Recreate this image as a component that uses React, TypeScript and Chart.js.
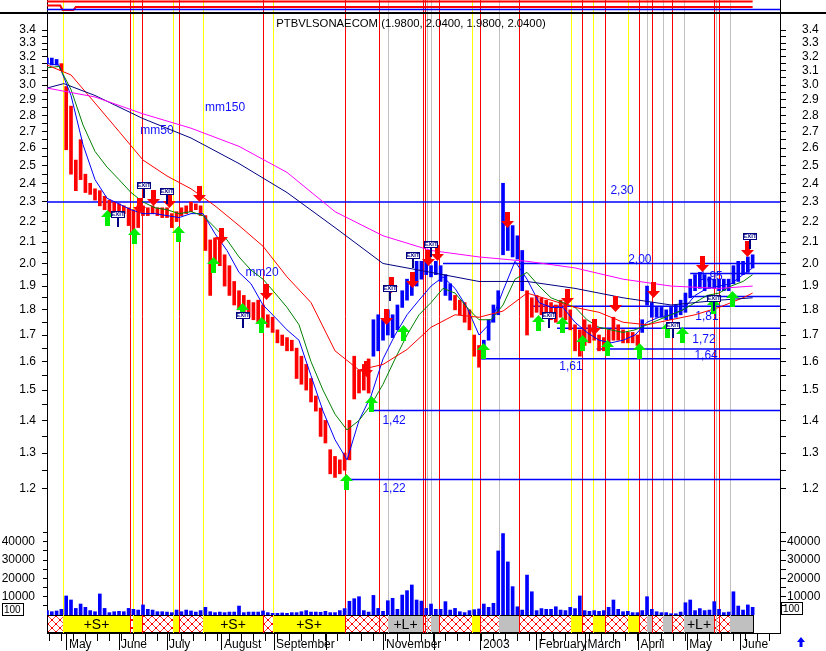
import React, { useEffect, useRef } from 'react';
import { Chart, registerables } from 'chart.js';

Chart.register(...registerables);

const FONT = "'Liberation Sans', Arial, sans-serif";

// ---------- axes ranges (trading-day index on x) ----------
const X_MAX = 305.4;
const P_MIN = 1.1165;
const P_MAX = 3.534;
const V_MAX = 51900;
const BAR_STEP = 2; // price / volume samples: one every 2 trading days

// ---------- price bars (low / high), t = 0,2,4,...,294 ----------
const priceHigh = [
  3.19, 3.19, 3.18, 3.15, 2.99, 2.86, 2.53, 2.65, 2.45, 2.40,
  2.37, 2.36, 2.33, 2.31, 2.30, 2.29, 2.28, 2.27, 2.26, 2.28,
  2.28, 2.27, 2.28, 2.27, 2.27, 2.27, 2.24, 2.25, 2.27, 2.28,
  2.30, 2.29, 2.28, 2.23, 2.11, 2.12, 2.12, 2.04, 1.99, 1.92,
  1.88, 1.86, 1.84, 1.83, 1.84, 1.82, 1.78, 1.77, 1.72, 1.70,
  1.69, 1.68, 1.65, 1.62, 1.59, 1.54, 1.48, 1.44, 1.40, 1.31,
  1.29, 1.28, 1.30, 1.40, 1.62, 1.57, 1.59, 1.61, 1.76, 1.78,
  1.76, 1.80, 1.78, 1.82, 1.88, 1.93, 1.95, 2.01, 2.01, 2.01,
  1.99, 2.01, 1.99, 1.95, 1.91, 1.86, 1.84, 1.83, 1.80, 1.70,
  1.66, 1.68, 1.76, 1.82, 1.88, 2.40, 2.19, 2.18, 2.13, 2.06,
  1.88, 1.85, 1.86, 1.85, 1.84, 1.83, 1.82, 1.84, 1.83, 1.80,
  1.74, 1.72, 1.76, 1.74, 1.76, 1.70, 1.69, 1.72, 1.77, 1.74,
  1.72, 1.71, 1.71, 1.70, 1.76, 1.90, 1.83, 1.81, 1.81, 1.80,
  1.81, 1.82, 1.84, 1.87, 1.93, 1.95, 1.96, 1.95, 1.94, 1.93,
  1.93, 1.93, 1.93, 1.99, 2.01, 2.01, 2.03, 2.04,
];
const priceLow = [
  3.15, 3.14, 3.14, 3.10, 2.59, 2.45, 2.36, 2.42, 2.35, 2.34,
  2.31, 2.28, 2.26, 2.24, 2.25, 2.23, 2.24, 2.18, 2.15, 2.17,
  2.23, 2.23, 2.24, 2.23, 2.22, 2.22, 2.17, 2.20, 2.23, 2.24,
  2.25, 2.26, 2.23, 2.06, 1.86, 2.00, 1.99, 1.90, 1.86, 1.82,
  1.80, 1.79, 1.77, 1.76, 1.75, 1.75, 1.73, 1.71, 1.67, 1.66,
  1.64, 1.64, 1.54, 1.52, 1.50, 1.46, 1.43, 1.35, 1.33, 1.24,
  1.23, 1.24, 1.25, 1.28, 1.47, 1.49, 1.50, 1.49, 1.62, 1.64,
  1.68, 1.70, 1.69, 1.72, 1.81, 1.84, 1.86, 1.90, 1.93, 1.95,
  1.94, 1.95, 1.92, 1.86, 1.84, 1.80, 1.78, 1.75, 1.72, 1.62,
  1.58, 1.61, 1.68, 1.75, 1.78, 2.04, 2.06, 2.03, 2.02, 1.88,
  1.70, 1.77, 1.79, 1.78, 1.77, 1.76, 1.75, 1.77, 1.76, 1.72,
  1.64, 1.62, 1.66, 1.67, 1.68, 1.64, 1.64, 1.66, 1.68, 1.68,
  1.67, 1.67, 1.67, 1.66, 1.71, 1.82, 1.77, 1.77, 1.77, 1.76,
  1.76, 1.77, 1.78, 1.79, 1.85, 1.88, 1.89, 1.88, 1.89, 1.89,
  1.88, 1.88, 1.88, 1.91, 1.92, 1.95, 1.96, 1.98,
];
// trend regimes: bars blue while "up", red while "down"
const trendStart = [0, 6, 136, 170, 182, 200, 248];
const trendUp = [true, false, true, false, true, false, true];

// ---------- volume, t = 0,2,...,294 ----------
const volume = [
  2400, 1800, 2200, 3100, 10400, 8200, 3600, 6000, 4200, 2400,
  1800, 11500, 3600, 1300, 1800, 2000, 1800, 3600, 3100, 2700,
  5500, 3100, 2700, 1800, 1800, 1600, 1300, 2700, 1800, 2700,
  2200, 1600, 2400, 4200, 1800, 1300, 1600, 1300, 1600, 1600,
  4900, 1300, 1600, 1600, 1600, 2200, 1300, 900, 900, 1100,
  900, 1300, 1300, 1800, 2400, 1600, 1600, 1500, 2000, 1300,
  1300, 2400, 3500, 7500, 8900, 10000, 2400, 1600, 10700, 3600,
  2000, 7800, 9100, 3100, 10900, 13300, 16400, 8200, 7600, 3600,
  6000, 3100, 3100, 7300, 2700, 3600, 1800, 1300, 2400, 2900,
  3300, 6000, 4200, 6400, 35000, 44500, 29000, 15500, 4500, 2700,
  21800, 12700, 2400, 3500, 3100, 3100, 4500, 2700, 2400, 4200,
  3500, 10400, 2400, 2000, 2400, 2000, 2400, 4200, 8200, 3100,
  1800, 2000, 1300, 1300, 2400, 10000, 3100, 1800, 1300, 1300,
  700, 700, 1600, 6700, 8200, 2400, 3500, 2400, 2700, 7300,
  3100, 1300, 1600, 12700, 4900, 2700, 5500, 4200,
];

// ---------- moving averages ----------
const maFastT = [
  0, 5, 10, 15, 20, 25, 30, 35, 40, 45, 50, 55, 60, 65, 70, 75, 80, 85, 90, 95,
  100, 105, 110, 115, 120, 125, 130, 135, 140, 145, 150, 155, 160, 165, 170, 175, 180, 185, 190, 195,
  200, 205, 210, 215, 220, 225, 230, 235, 240, 245, 250, 255, 260, 265, 270, 275, 280, 285, 290, 294,
];
const mm20 = [
  3.15, 3.14, 2.93, 2.62, 2.42, 2.32, 2.29, 2.26, 2.24, 2.24,
  2.23, 2.22, 2.24, 2.24, 2.14, 2.06, 1.96, 1.91, 1.82, 1.77,
  1.72, 1.68, 1.55, 1.43, 1.34, 1.28, 1.40, 1.48, 1.61, 1.70,
  1.78, 1.84, 1.90, 1.94, 1.89, 1.81, 1.70, 1.75, 1.88, 2.01,
  1.93, 1.83, 1.81, 1.81, 1.75, 1.71, 1.68, 1.67, 1.68, 1.70,
  1.75, 1.77, 1.78, 1.80, 1.86, 1.89, 1.90, 1.91, 1.95, 1.98,
];
const mmGreen = [
  3.12, 3.13, 2.97, 2.74, 2.58, 2.49, 2.42, 2.35, 2.30, 2.27,
  2.26, 2.24, 2.25, 2.23, 2.17, 2.11, 2.03, 1.97, 1.93, 1.87,
  1.81, 1.74, 1.60, 1.50, 1.42, 1.37, 1.40, 1.45, 1.52, 1.61,
  1.70, 1.78, 1.83, 1.89, 1.87, 1.81, 1.76, 1.76, 1.82, 1.93,
  1.96, 1.90, 1.85, 1.83, 1.81, 1.76, 1.73, 1.72, 1.71, 1.72,
  1.74, 1.76, 1.78, 1.80, 1.83, 1.86, 1.87, 1.90, 1.92, 1.95,
];
const maRedT = [
  0, 10, 20, 30, 40, 50, 60, 70, 80, 90, 100, 110, 120, 130, 140, 150,
  160, 170, 180, 190, 200, 210, 220, 230, 240, 250, 260, 270, 280, 290, 294,
];
const mmRed = [
  3.14, 3.07, 2.88, 2.70, 2.53, 2.44, 2.37, 2.28, 2.18, 2.08, 1.94, 1.83, 1.64, 1.57, 1.59, 1.645,
  1.73, 1.78, 1.77, 1.795, 1.87, 1.84, 1.81, 1.79, 1.75, 1.74, 1.76, 1.78, 1.81, 1.85, 1.87,
];
const mm50T = [0, 7, 20, 40, 60, 80, 100, 120, 140, 160, 180, 200, 220, 240, 260, 280, 294];
const mm50 = [2.98, 3.01, 2.93, 2.78, 2.66, 2.51, 2.35, 2.17, 2.00, 1.96, 1.92, 1.92, 1.89, 1.85, 1.82, 1.84, 1.85];
const mm150T = [0, 20, 40, 60, 80, 100, 120, 140, 160, 180, 200, 220, 240, 260, 280, 294];
const mm150 = [2.98, 2.92, 2.81, 2.72, 2.61, 2.46, 2.25, 2.13, 2.06, 2.03, 2.01, 1.98, 1.93, 1.90, 1.89, 1.90];
const maLabelText = ['mm150', 'mm50', 'mm20'];
const maLabelT = [74.2, 45.8, 89.6];
const maLabelV = [2.848, 2.703, 1.957];

// ---------- support / resistance levels ----------
const levelValue = [2.30, 2.00, 1.955, 1.855, 1.815, 1.726, 1.647, 1.611, 1.432, 1.224];
const levelFromT = [0, 165, 268, 268, 202.5, 212.5, 229, 180.4, 134.6, 125];
const levelLabel = ['2,30', '2,00', '1,95', '', '1,81', '1,72', '1,64', '1,61', '1,42', '1,22'];
const levelLabelT = [239.6, 247, 276.7, 0, 275, 273.7, 274.6, 218.3, 144.6, 144.6];
const levelLabelV = [2.358, 2.016, 1.94, 0, 1.773, 1.681, 1.621, 1.581, 1.4, 1.2];

// ---------- signals ----------
const buyT = [25, 36.3, 54.6, 69.2, 81.3, 89.2, 124.6, 135, 148.3, 181.7, 204.6, 214.6, 223, 233.3, 246.7, 258.3, 264.6, 277.5, 285.4];
const buyV = [2.26, 2.17, 2.18, 2.03, 1.83, 1.77, 1.24, 1.48, 1.74, 1.67, 1.78, 1.77, 1.70, 1.68, 1.67, 1.75, 1.73, 1.85, 1.88];
const sellT = [38.3, 44.2, 50.8, 63.3, 72.5, 91.3, 132.9, 141.3, 143.3, 152.1, 158.8, 162.5, 191.7, 216.7, 228, 236.7, 252.5, 272.9, 291.7];
const sellV = [2.24, 2.28, 2.27, 2.30, 2.09, 1.84, 1.545, 1.74, 1.87, 1.89, 1.99, 2.01, 2.17, 1.82, 1.70, 1.79, 1.85, 1.96, 2.03];
const exitT = [29.6, 40.4, 50, 81.7, 142.9, 152.5, 160, 209.2, 260.8, 277.9, 292.9];
const exitV = [2.24, 2.39, 2.36, 1.78, 1.89, 2.04, 2.09, 1.78, 1.74, 1.85, 2.13];

// ---------- event lines (R = red, Y = yellow, G = grey) ----------
const eventT = [6.7, 34.6, 35.8, 39.6, 52.5, 55, 65, 90, 94.2, 124.2, 138.3, 142.1, 156.5, 157.3, 158.3, 159.8, 163.3, 177, 180.4, 188.3, 196.7, 218.5, 223.1, 227.3, 232.3, 242.2, 246.8, 250, 252, 256.5, 260.3, 265.5, 278, 278.8, 279.9, 284.4];
const eventKind = ['Y', 'R', 'Y', 'R', 'Y', 'R', 'Y', 'R', 'Y', 'R', 'R', 'G', 'R', 'R', 'G', 'G', 'R', 'Y', 'R', 'G', 'R', 'Y', 'R', 'Y', 'R', 'Y', 'R', 'G', 'R', 'G', 'R', 'G', 'R', 'G', 'R', 'G'];

// ---------- regime strip (H = hatched, S = yellow, L = grey) ----------
const bandFrom = [0, 6.7, 34.6, 35.8, 39.6, 52.5, 55, 65, 90, 94.2, 124.2, 138.3, 142.1, 156.5, 159.8, 163.3, 177, 180.4, 188.3, 196.7, 218.5, 223.1, 227.3, 232.3, 242.2, 246.8, 250, 252, 256.5, 260.3, 265.5, 278, 279.9, 284.4];
const bandTo = [6.7, 34.6, 35.8, 39.6, 52.5, 55, 65, 90, 94.2, 124.2, 138.3, 142.1, 156.5, 159.8, 163.3, 177, 180.4, 188.3, 196.7, 218.5, 223.1, 227.3, 232.3, 242.2, 246.8, 250, 252, 256.5, 260.3, 265.5, 278, 279.9, 284.4, 294.1];
const bandKind = ['H', 'S', 'H', 'S', 'H', 'S', 'H', 'S', 'H', 'S', 'H', 'H', 'L', 'H', 'L', 'H', 'S', 'H', 'L', 'H', 'S', 'H', 'S', 'H', 'S', 'H', 'L', 'H', 'L', 'H', 'L', 'H', 'H', 'L'];
const bandText = ['', '+S+', '', '', '', '', '', '+S+', '', '+S+', '', '', '+L+', '', '', '', '', '', '', '', '', '', '', '', '', '', '', '', '', '', '+L+', '', '', ''];

// ---------- x ticks (month starts) ----------
const monthT = [8.3, 30, 50, 72.9, 94.6, 116.3, 140.4, 161.4, 180.8, 204, 224.4, 246.4, 266.8, 288.75];
const monthLabel = ['May', 'June', 'July', 'August', 'September', '', 'November', '', '2003', 'February', 'March', 'April', 'May', 'June'];

// ---------- y ticks ----------
const priceTickLabels = ['1.2', '1.3', '1.4', '1.5', '1.6', '1.7', '1.8', '1.9', '2.0', '2.1', '2.2', '2.3', '2.4', '2.5', '2.6', '2.7', '2.8', '2.9', '3.0', '3.1', '3.2', '3.3', '3.4'];
const volumeTicks = [5000, 10000, 15000, 20000, 25000, 30000, 35000, 40000, 45000];

// ---------- small top indicator pane ----------
const topT = [0, 5.5, 6.5, 11, 12, 294];
const topIndicator = [7.5, 7.5, 3, 3, 6, 6];

const TITLE = 'PTBVLSONAECOM (1.9800, 2.0400, 1.9800, 2.0400)';

// ------------------------------------------------------------------
const priceTickValues: number[] = [];
priceTickLabels.forEach((l, k) => {
  const v = parseFloat(l);
  priceTickValues.push(v);
  if (k < priceTickLabels.length - 1) priceTickValues.push(v + 0.05);
});
const priceLabelAt = (i: number) => (i % 2 === 0 ? priceTickLabels[i / 2] : '');
const volLabelAt = (i: number) => (volumeTicks[i] % 10000 === 0 ? String(volumeTicks[i]) : '');

function isUp(t: number) {
  let up = trendUp[0];
  for (let k = 0; k < trendStart.length; k++) if (t >= trendStart[k]) up = trendUp[k];
  return up;
}

let hatchCanvas: HTMLCanvasElement | null = null;
function hatchPattern(ctx: CanvasRenderingContext2D) {
  if (!hatchCanvas) {
    const c = document.createElement('canvas');
    c.width = 8;
    c.height = 8;
    const g = c.getContext('2d')!;
    g.fillStyle = '#ffffff';
    g.fillRect(0, 0, 8, 8);
    g.strokeStyle = '#ff4040';
    g.lineWidth = 1;
    g.beginPath();
    g.moveTo(0, 0);
    g.lineTo(8, 8);
    g.moveTo(8, 0);
    g.lineTo(0, 8);
    g.stroke();
    g.fillStyle = '#ff0000';
    g.fillRect(3, 3, 2, 2);
    g.fillRect(0, 0, 1, 1);
    g.fillRect(7, 7, 1, 1);
    g.fillRect(7, 0, 1, 1);
    g.fillRect(0, 7, 1, 1);
    hatchCanvas = c;
  }
  return ctx.createPattern(hatchCanvas, 'repeat');
}

const overlayPlugin = {
  id: 'overlay',
  beforeDatasetsDraw(chart: any) {
    const { ctx, chartArea } = chart;
    const sx = chart.scales.x;
    const sy = chart.scales.y;
    const sb = chart.scales.yb;
    ctx.save();
    // regime strip
    const bt = Math.round(sb.getPixelForValue(1));
    const bb = Math.round(sb.getPixelForValue(0));
    const pat = hatchPattern(ctx);
    bandFrom.forEach((f, i) => {
      const x0 = Math.round(sx.getPixelForValue(f));
      const x1 = Math.round(sx.getPixelForValue(bandTo[i]));
      ctx.fillStyle = bandKind[i] === 'S' ? '#ffff00' : bandKind[i] === 'L' ? '#c0c0c0' : pat;
      ctx.fillRect(x0, bt, x1 - x0, bb - bt);
      ctx.strokeStyle = '#000';
      ctx.lineWidth = 1;
      ctx.strokeRect(x0 + 0.5, bt + 0.5, x1 - x0, bb - bt - 1);
      if (bandText[i]) {
        ctx.fillStyle = '#000';
        ctx.font = `14px ${FONT}`;
        ctx.textAlign = 'center';
        ctx.textBaseline = 'middle';
        ctx.fillText(bandText[i], (x0 + x1) / 2, (bt + bb) / 2 + 1);
      }
    });
    // event lines
    eventT.forEach((t, i) => {
      const px = Math.round(sx.getPixelForValue(t)) + 0.5;
      ctx.strokeStyle = eventKind[i] === 'R' ? '#ff0000' : eventKind[i] === 'Y' ? '#ffff00' : '#c0c0c0';
      ctx.lineWidth = 1;
      ctx.beginPath();
      ctx.moveTo(px, 0);
      ctx.lineTo(px, chartArea.bottom);
      ctx.stroke();
    });
    // level labels
    ctx.fillStyle = '#1010ff';
    ctx.font = `12px ${FONT}`;
    ctx.textAlign = 'center';
    ctx.textBaseline = 'middle';
    levelLabel.forEach((l, i) => {
      if (!l) return;
      ctx.fillText(l, sx.getPixelForValue(levelLabelT[i]), sy.getPixelForValue(levelLabelV[i]));
    });
    maLabelText.forEach((l, i) => {
      ctx.fillText(l, sx.getPixelForValue(maLabelT[i]), sy.getPixelForValue(maLabelV[i]));
    });
    ctx.restore();
  },
  afterDatasetsDraw(chart: any) {
    const { ctx } = chart;
    const sx = chart.scales.x;
    const sy = chart.scales.y;
    ctx.save();
    // buy arrows (tip on top)
    ctx.fillStyle = '#00ee00';
    buyT.forEach((t, i) => {
      const x = Math.round(sx.getPixelForValue(t)) + 0.5;
      const y = Math.round(sy.getPixelForValue(buyV[i]));
      ctx.beginPath();
      ctx.moveTo(x, y);
      ctx.lineTo(x + 6.5, y + 7);
      ctx.lineTo(x + 2.5, y + 7);
      ctx.lineTo(x + 2.5, y + 16);
      ctx.lineTo(x - 2.5, y + 16);
      ctx.lineTo(x - 2.5, y + 7);
      ctx.lineTo(x - 6.5, y + 7);
      ctx.closePath();
      ctx.fill();
    });
    // sell arrows (tip at bottom)
    ctx.fillStyle = '#ff0000';
    sellT.forEach((t, i) => {
      const x = Math.round(sx.getPixelForValue(t)) + 0.5;
      const y = Math.round(sy.getPixelForValue(sellV[i]));
      ctx.beginPath();
      ctx.moveTo(x, y);
      ctx.lineTo(x + 6.5, y - 7);
      ctx.lineTo(x + 2.5, y - 7);
      ctx.lineTo(x + 2.5, y - 16);
      ctx.lineTo(x - 2.5, y - 16);
      ctx.lineTo(x - 2.5, y - 7);
      ctx.lineTo(x - 6.5, y - 7);
      ctx.closePath();
      ctx.fill();
    });
    // exit markers
    exitT.forEach((t, i) => {
      const x = Math.round(sx.getPixelForValue(t));
      const y = Math.round(sy.getPixelForValue(exitV[i]));
      ctx.fillStyle = '#000080';
      ctx.fillRect(x - 1, y + 3, 2, 10);
      ctx.fillStyle = '#ffffff';
      ctx.fillRect(x - 7, y - 3, 14, 7);
      ctx.strokeStyle = '#000080';
      ctx.lineWidth = 1;
      ctx.strokeRect(x - 6.5, y - 2.5, 13, 6);
      ctx.fillStyle = '#000080';
      ctx.font = `bold 6px ${FONT}`;
      ctx.textAlign = 'center';
      ctx.textBaseline = 'middle';
      ctx.fillText('EXIT', x, y + 0.5);
    });
    ctx.restore();
  },
  afterDraw(chart: any) {
    const { ctx, chartArea } = chart;
    const sx = chart.scales.x;
    const syt = chart.scales.yt;
    ctx.save();
    // separator below the top strip
    ctx.fillStyle = '#000';
    ctx.fillRect(0, Math.round(syt.getPixelForValue(0)) - 1, chart.width, 2);
    // weekly minor ticks
    ctx.strokeStyle = '#000';
    ctx.lineWidth = 1;
    for (let t = 1; t < X_MAX; t += 5) {
      const px = Math.round(sx.getPixelForValue(t)) + 0.5;
      ctx.beginPath();
      ctx.moveTo(px, chartArea.bottom);
      ctx.lineTo(px, chartArea.bottom + 8);
      ctx.stroke();
    }
    // title
    ctx.fillStyle = '#000';
    ctx.font = `11.3px ${FONT}`;
    ctx.textAlign = 'center';
    ctx.textBaseline = 'middle';
    ctx.fillText(TITLE, 411, 24);
    // volume multiplier boxes
    const vy = Math.round(chart.scales.yv.getPixelForValue(0));
    ctx.font = `10px ${FONT}`;
    ctx.textAlign = 'left';
    ctx.strokeRect(2.5, vy - 11.5, 21, 12);
    ctx.fillText('100', 4, vy - 5);
    ctx.strokeRect(781.5, vy - 12.5, 21, 12);
    ctx.fillText('100', 783, vy - 6);
    // little scroll arrow bottom-right
    ctx.fillStyle = '#0000ff';
    ctx.beginPath();
    ctx.moveTo(801, 637);
    ctx.lineTo(805, 642);
    ctx.lineTo(802.5, 642);
    ctx.lineTo(802.5, 647);
    ctx.lineTo(799.5, 647);
    ctx.lineTo(799.5, 642);
    ctx.lineTo(797, 642);
    ctx.closePath();
    ctx.fill();
    ctx.restore();
  },
};

function fixWidth(w: number) {
  return (s: any) => {
    s.width = w;
    s.paddingTop = 0;
    s.paddingBottom = 0;
    s.paddingLeft = 0;
    s.paddingRight = 0;
  };
}

function paneAxis(position: string, stack: string, stackWeight: number, weight: number, w: number) {
  return {
    type: 'linear',
    position,
    stack,
    stackWeight,
    weight,
    min: 0,
    max: 1,
    bounds: 'data',
    afterFit: fixWidth(w),
    grid: { display: false, drawTicks: false },
    border: { display: true, color: '#000' },
    ticks: { display: false },
  };
}

function priceAxis(position: string, weight: number, w: number, tickLength: number, padding: number) {
  return {
    type: 'logarithmic',
    position,
    stack: position === 'left' ? 'L' : 'R',
    stackWeight: 507,
    weight,
    min: P_MIN,
    max: P_MAX,
    bounds: 'data',
    afterBuildTicks: (s: any) => {
      s.ticks = priceTickValues.map((v) => ({ value: v }));
    },
    afterFit: fixWidth(w),
    grid: { drawOnChartArea: false, drawTicks: true, tickLength, tickColor: '#000', color: '#000' },
    border: { display: true, color: '#000' },
    ticks: {
      autoSkip: false,
      padding,
      color: '#000',
      font: { family: FONT, size: 12 },
      callback: (_v: any, i: number) => priceLabelAt(i),
    },
  };
}

function volumeAxis(position: string, weight: number, w: number, tickLength: number, padding: number) {
  return {
    type: 'linear',
    position,
    stack: position === 'left' ? 'L' : 'R',
    stackWeight: 95,
    weight,
    min: 0,
    max: V_MAX,
    bounds: 'data',
    afterBuildTicks: (s: any) => {
      s.ticks = volumeTicks.map((v) => ({ value: v }));
    },
    afterFit: fixWidth(w),
    grid: { drawOnChartArea: false, drawTicks: true, tickLength, tickColor: '#000', color: '#000' },
    border: { display: true, color: '#000' },
    ticks: {
      autoSkip: false,
      padding,
      color: '#000',
      font: { family: FONT, size: 12 },
      callback: (_v: any, i: number) => volLabelAt(i),
    },
  };
}

function lineSet(ts: number[], vals: number[], color: string, yAxisID = 'y', width = 1, order = 1) {
  return {
    type: 'line',
    data: ts.map((t, i) => ({ x: t, y: vals[i] })),
    borderColor: color,
    backgroundColor: color,
    borderWidth: width,
    pointRadius: 0,
    tension: 0,
    fill: false,
    yAxisID,
    order,
  };
}

function buildConfig(): any {
  const upBars: any[] = [];
  const downBars: any[] = [];
  priceHigh.forEach((h, i) => {
    const t = i * BAR_STEP;
    (isUp(t) ? upBars : downBars).push({ x: t, y: [priceLow[i], h] });
  });
  const barBase = { type: 'bar', grouped: false, barThickness: 3, borderWidth: 0, order: 2 };

  const datasets: any[] = [
    lineSet(mm150T, mm150, '#ff00ff'),
    lineSet(mm50T, mm50, '#000080'),
    lineSet(maRedT, mmRed, '#ff0000'),
    lineSet(maFastT, mmGreen, '#008000'),
    lineSet(maFastT, mm20, '#0000ff'),
    { ...barBase, data: downBars, backgroundColor: '#ff0000', yAxisID: 'y' },
    { ...barBase, data: upBars, backgroundColor: '#0000ff', yAxisID: 'y' },
    {
      ...barBase,
      data: volume.map((v, i) => ({ x: i * BAR_STEP, y: v })),
      backgroundColor: '#0000ff',
      yAxisID: 'yv',
    },
  ];
  levelValue.forEach((v, i) => {
    datasets.push(lineSet([levelFromT[i], X_MAX], [v, v], '#0000ff', 'y', 1.5, 3));
  });
  datasets.push(lineSet([0, 294], [11.5, 11.5], '#ff0000', 'yt', 2, 1));
  datasets.push(lineSet([0, X_MAX], [3.5, 3.5], '#0000ff', 'yt', 1.5, 1));
  datasets.push(lineSet(topT, topIndicator, '#ff0000', 'yt', 2, 1));

  return {
    type: 'bar',
    data: { datasets },
    options: {
      responsive: false,
      animation: false,
      devicePixelRatio: 1,
      events: [],
      layout: { padding: 0 },
      plugins: { legend: { display: false }, tooltip: { enabled: false }, title: { display: false } },
      scales: {
        x: {
          type: 'linear',
          position: 'bottom',
          min: 0,
          max: X_MAX,
          bounds: 'data',
          offset: false,
          afterBuildTicks: (s: any) => {
            s.ticks = monthT.map((v) => ({ value: v }));
          },
          afterFit: (s: any) => {
            s.height = 18;
            s.paddingLeft = 0;
            s.paddingRight = 0;
          },
          grid: { drawOnChartArea: false, offset: false, drawTicks: true, tickLength: 17, tickColor: '#000', color: '#000' },
          border: { display: true, color: '#000' },
          ticks: {
            autoSkip: false,
            maxRotation: 0,
            minRotation: 0,
            align: 'start',
            labelOffset: 2,
            padding: -13,
            color: '#000',
            font: { family: FONT, size: 12 },
            callback: (_v: any, i: number) => monthLabel[i],
          },
        },
        yt: { ...paneAxis('left', 'L', 13, 4, 47), max: 13 },
        y: priceAxis('left', 3, 47, 5, 6),
        yv: volumeAxis('left', 2, 47, 4, 8),
        yb: paneAxis('left', 'L', 18, 1, 47),
        ytR: { ...paneAxis('right', 'R', 13, 1, 46), max: 13 },
        yR: priceAxis('right', 2, 46, 6, 16),
        yvR: volumeAxis('right', 3, 46, 6, 1),
        ybR: paneAxis('right', 'R', 18, 4, 46),
      },
    },
    plugins: [overlayPlugin],
  };
}

export default function App() {
  const ref = useRef<HTMLCanvasElement>(null);
  useEffect(() => {
    const canvas = ref.current;
    if (!canvas) return;
    const chart = new Chart(canvas, buildConfig());
    return () => chart.destroy();
  }, []);
  return (
    <div style={{ position: 'absolute', left: 0, top: 0, width: 826, height: 651, background: '#ffffff' }}>
      <canvas ref={ref} width={826} height={651} style={{ display: 'block' }} />
    </div>
  );
}
